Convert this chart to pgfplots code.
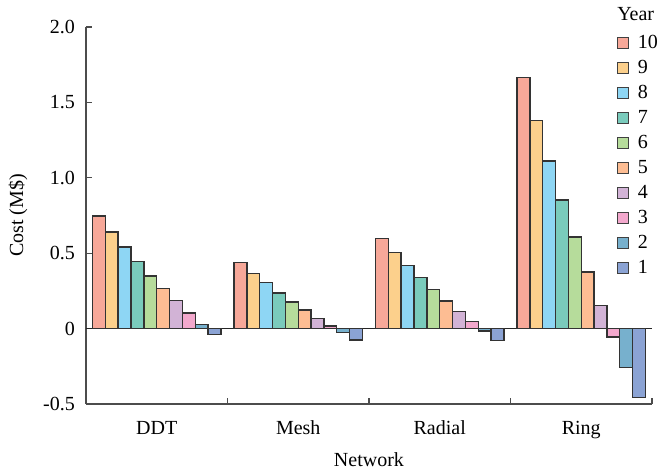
\documentclass[border=0pt]{standalone}
\usepackage{fontspec}
\setmainfont{Liberation Serif}
\usepackage{pgfplots}
\pgfplotsset{compat=1.18}
\definecolor{c10}{HTML}{F7A899}
\definecolor{c9}{HTML}{FCD08C}
\definecolor{c8}{HTML}{8ED6F4}
\definecolor{c7}{HTML}{7ACBBC}
\definecolor{c6}{HTML}{B6DC9B}
\definecolor{c5}{HTML}{FDBD93}
\definecolor{c4}{HTML}{D2B3D6}
\definecolor{c3}{HTML}{F3A8CD}
\definecolor{c2}{HTML}{77B0CD}
\definecolor{c1}{HTML}{8BA3D4}
\pgfplotsset{
  sq/.style={fill=#1, draw=black!80, line width=0.7pt,
    legend image code/.code={\draw[fill=#1, draw=black!75, line width=0.6pt] (0pt,-2.7pt) rectangle (5.4pt,2.7pt); \path (8.4pt,0pt);}},
}
\begin{document}
\begin{tikzpicture}
\begin{axis}[
  scale only axis, width=283pt, height=188.5pt,
  clip=false,
  ybar=0pt, bar width=0.0908,
  xmin=-0.5, xmax=3.5, ymin=-0.5, ymax=2.0,
  axis x line=bottom, axis y line=left,
  axis line style={black!70,-, line width=0.6pt},
  xtick={0,1,2,3}, xticklabels={DDT,Mesh,Radial,Ring},
  major x tick style={draw=none},
  minor xtick={0.5,1.5,2.5,3.5},
  ytick={-0.5,0,0.5,1,1.5,2}, yticklabels={-0.5,0,0.5,1.0,1.5,2.0},
  tick align=inside, major tick length=3pt, minor tick length=3pt,
  tick style={black!70, line width=0.6pt},
  /pgf/number format/assume math mode=true,
  yticklabel style={xshift=-2pt},
  xticklabel style={yshift=-5pt},
  extra y ticks={0}, extra y tick labels={},
  extra y tick style={grid=major, major grid style={black!85, line width=0.6pt}, major tick length=0pt},
  xlabel={Network}, ylabel={Cost (M\$)},
  xlabel style={at={(axis description cs:0.5,0)}, anchor=center, yshift=-28pt},
  ylabel style={at={(axis description cs:-0.1201,0.5)}, anchor=center, rotate=0},
  legend style={draw=none, fill=none, at={(axis description cs:0.938,0.987)}, anchor=north west,
    row sep=1.4pt, inner sep=0pt, outer sep=0pt, nodes={inner sep=1.5pt}},
  legend cell align=left,
]
\addplot[sq=c10, bar shift=-0.4086] coordinates {(0,0.746) (1,0.437) (2,0.598) (3,1.665)};
\addplot[sq=c9, bar shift=-0.3178] coordinates {(0,0.640) (1,0.366) (2,0.505) (3,1.380)};
\addplot[sq=c8, bar shift=-0.2270] coordinates {(0,0.540) (1,0.304) (2,0.420) (3,1.110)};
\addplot[sq=c7, bar shift=-0.1362] coordinates {(0,0.445) (1,0.237) (2,0.337) (3,0.853)};
\addplot[sq=c6, bar shift=-0.0454] coordinates {(0,0.350) (1,0.177) (2,0.260) (3,0.608)};
\addplot[sq=c5, bar shift=0.0454] coordinates {(0,0.264) (1,0.122) (2,0.184) (3,0.375)};
\addplot[sq=c4, bar shift=0.1362] coordinates {(0,0.186) (1,0.066) (2,0.113) (3,0.154)};
\addplot[sq=c3, bar shift=0.2270] coordinates {(0,0.104) (1,0.018) (2,0.045) (3,-0.055)};
\addplot[sq=c2, bar shift=0.3178] coordinates {(0,0.029) (1,-0.027) (2,-0.015) (3,-0.260)};
\addplot[sq=c1, bar shift=0.4086] coordinates {(0,-0.040) (1,-0.076) (2,-0.080) (3,-0.455)};
\legend{10,9,8,7,6,5,4,3,2,1}
\node[anchor=base west, inner sep=0pt] at (axis description cs:0.938,1.016) {Year};
\path (axis description cs:-0.1519,-0.1857) rectangle (axis description cs:1.0177,1.0716);
\end{axis}
\end{tikzpicture}
\end{document}
